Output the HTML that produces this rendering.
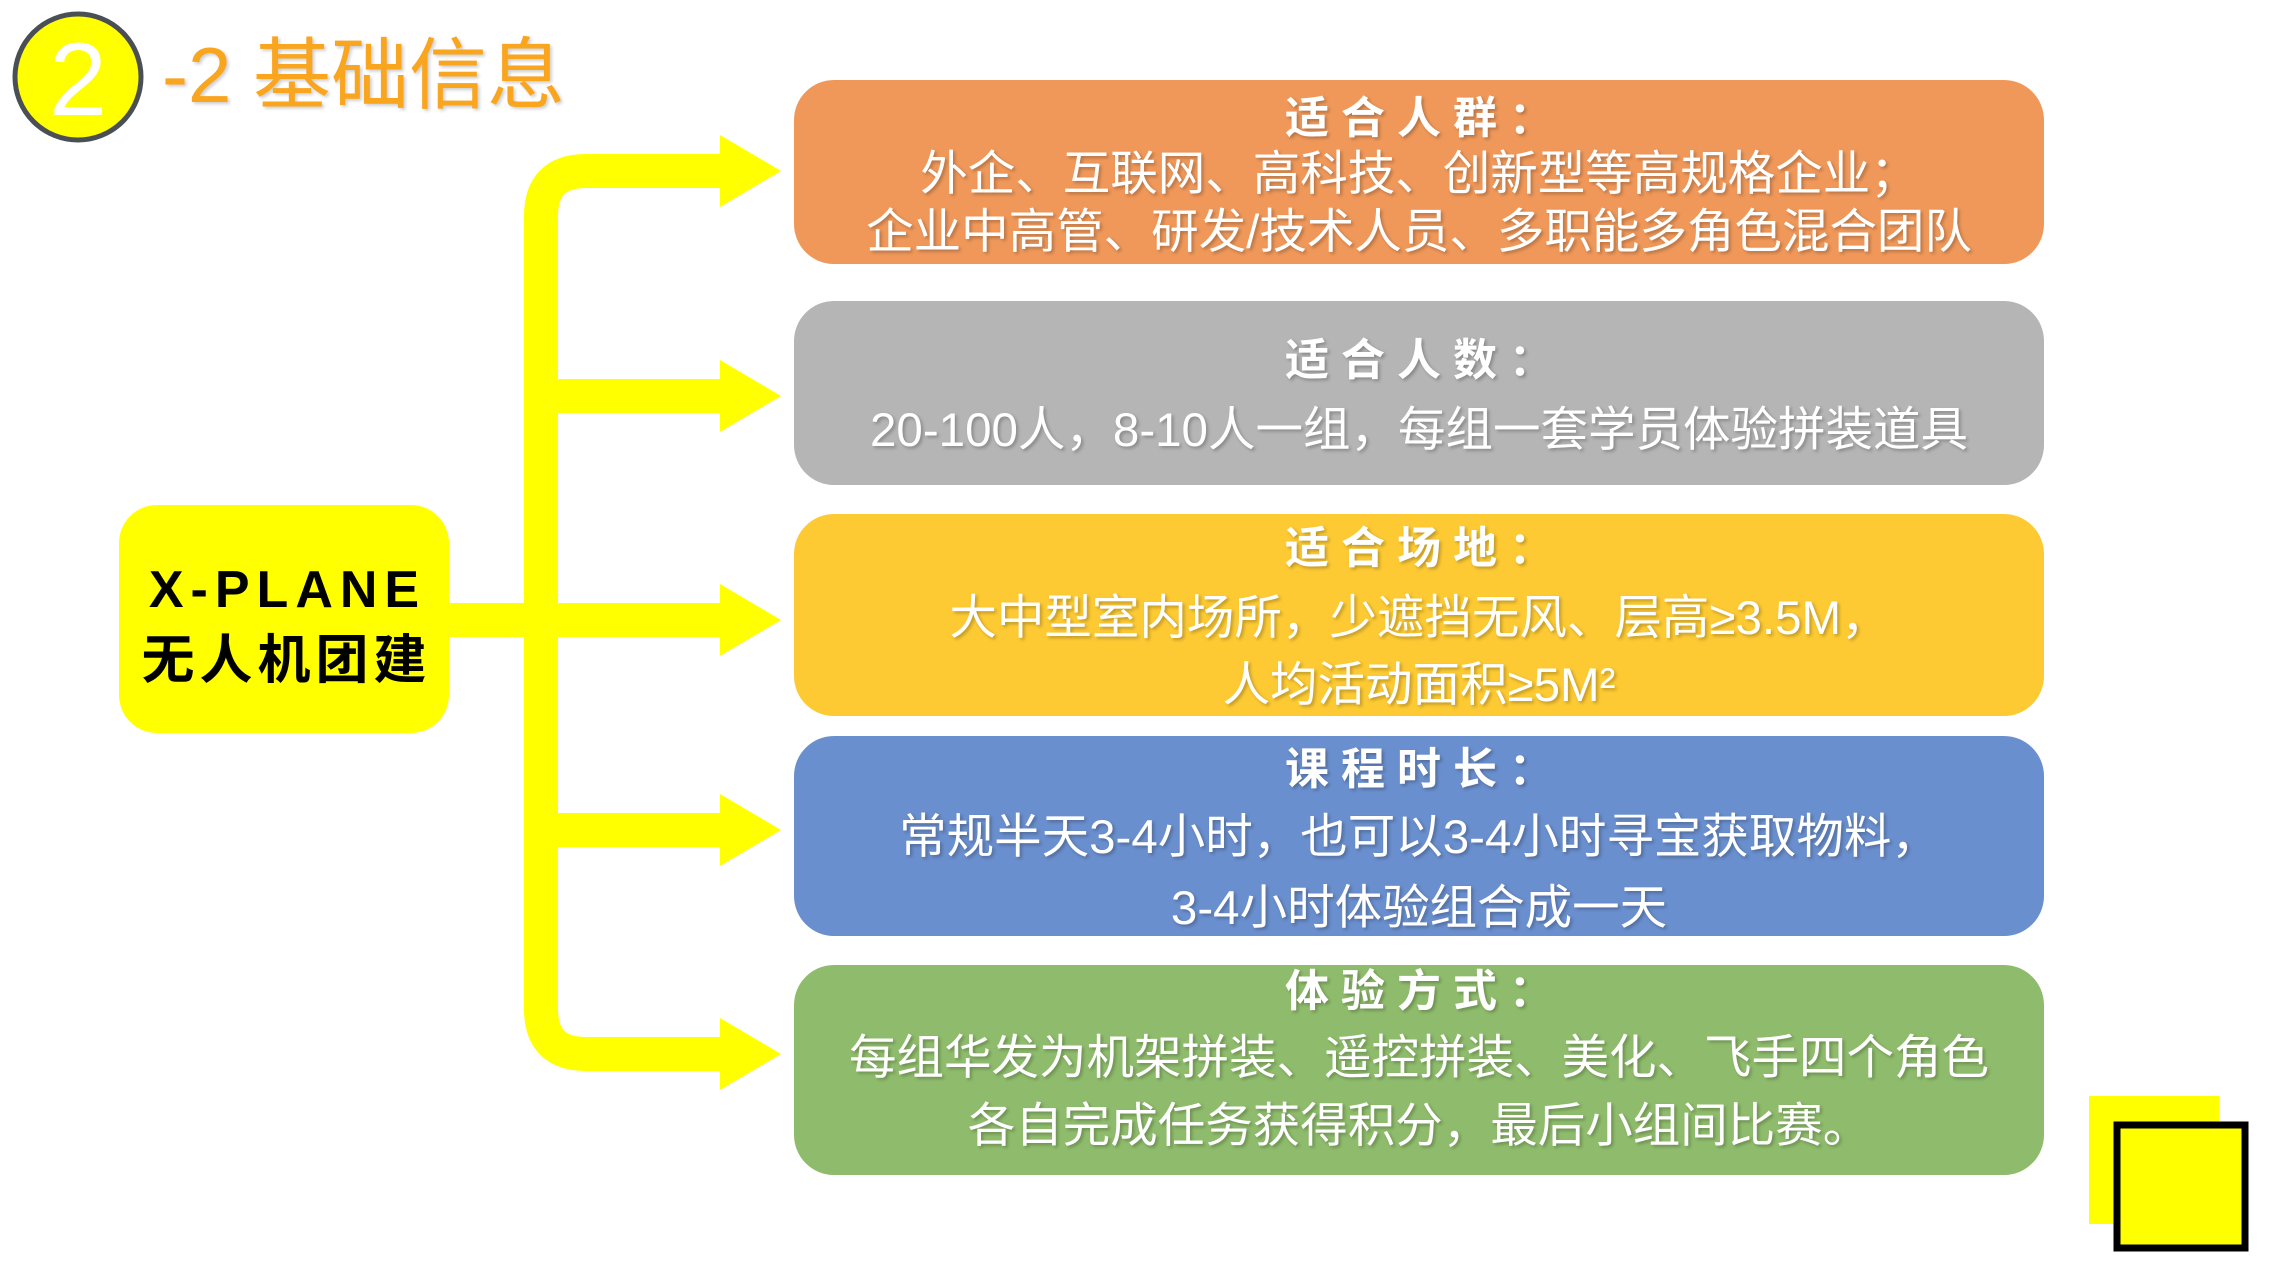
<!DOCTYPE html>
<html><head><meta charset="utf-8"><style>
body{margin:0;width:2275px;height:1280px;background:#fff;position:relative;overflow:hidden;font-family:"Liberation Sans","Noto Sans CJK SC",sans-serif}
.box{position:absolute;left:794px;width:1250px;border-radius:40px}
.t{position:absolute;left:794px;width:1250px;text-align:center;color:#fff;white-space:nowrap;line-height:1;text-shadow:2px 2px 3px rgba(0,0,0,.25)}
.h{font-size:44px;font-weight:bold;letter-spacing:12px;text-indent:12px}
.b{font-size:47.5px}
</style></head><body>
<svg width="2275" height="1280" style="position:absolute;left:0;top:0">
<circle cx="78" cy="77" r="63" fill="#ffff00" stroke="#4a4f55" stroke-width="5"/>
<text x="78" y="115" font-size="104" fill="#fff" text-anchor="middle" font-family="Liberation Sans, sans-serif">2</text>
<g fill="none" stroke="#ffff00" stroke-width="34">
<path d="M722,171 H586 Q541,171 541,216 V1009 Q541,1054 586,1054 H722"/>
<path d="M541,396 H722 M440,620 H722 M541,830 H722"/>
</g>
<g fill="#ffff00">
<polygon points="720,135 781,171 720,207"/>
<polygon points="720,360 781,396 720,432"/>
<polygon points="720,584 781,620 720,656"/>
<polygon points="720,794 781,830 720,866"/>
<polygon points="720,1018 781,1054 720,1090"/>
<rect x="2089" y="1096" width="130" height="128"/>
<rect x="2117" y="1125" width="128" height="123" stroke="#000" stroke-width="7"/>
</g>
</svg>
<div style="position:absolute;left:162px;top:36px;font-size:78px;color:#F9A51E;line-height:1;white-space:nowrap;text-shadow:2px 2px 3px rgba(0,0,0,.2)">-2 基础信息</div>
<div style="position:absolute;left:119px;top:505px;width:330px;height:228px;background:#ffff00;border-radius:38px"></div>
<div style="position:absolute;left:119px;top:564px;width:330px;text-align:center;font-size:52px;font-weight:bold;letter-spacing:7px;text-indent:7px;line-height:1;color:#000">X-PLANE</div>
<div style="position:absolute;left:119px;top:634px;width:330px;text-align:center;font-size:53px;font-weight:bold;letter-spacing:5px;text-indent:5px;line-height:1;color:#000">无人机团建</div>

<div class="box" style="top:80px;height:184px;background:#F0985A"></div>
<div class="box" style="top:301px;height:184px;background:#B5B5B5"></div>
<div class="box" style="top:514px;height:202px;background:#FDCA33"></div>
<div class="box" style="top:736px;height:200px;background:#6A8FCE"></div>
<div class="box" style="top:965px;height:210px;background:#8FBC6C"></div>

<div class="t h" style="top:97px">适合人群：</div>
<div class="t b" style="top:151px">外企、互联网、高科技、创新型等高规格企业；</div>
<div class="t b" style="top:209px">企业中高管、研发/技术人员、多职能多角色混合团队</div>

<div class="t h" style="top:339px">适合人数：</div>
<div class="t b" style="top:407px">20-100人，8-10人一组，每组一套学员体验拼装道具</div>

<div class="t h" style="top:527px">适合场地：</div>
<div class="t b" style="top:595px">大中型室内场所，少遮挡无风、层高≥3.5M，</div>
<div class="t b" style="top:662px">人均活动面积≥5M²</div>

<div class="t h" style="top:748px">课程时长：</div>
<div class="t b" style="top:814px">常规半天3-4小时，也可以3-4小时寻宝获取物料，</div>
<div class="t b" style="top:885px">3-4小时体验组合成一天</div>

<div class="t h" style="top:970px">体验方式：</div>
<div class="t b" style="top:1035px">每组华发为机架拼装、遥控拼装、美化、飞手四个角色</div>
<div class="t b" style="top:1103px">各自完成任务获得积分，最后小组间比赛。</div>
</body></html>
